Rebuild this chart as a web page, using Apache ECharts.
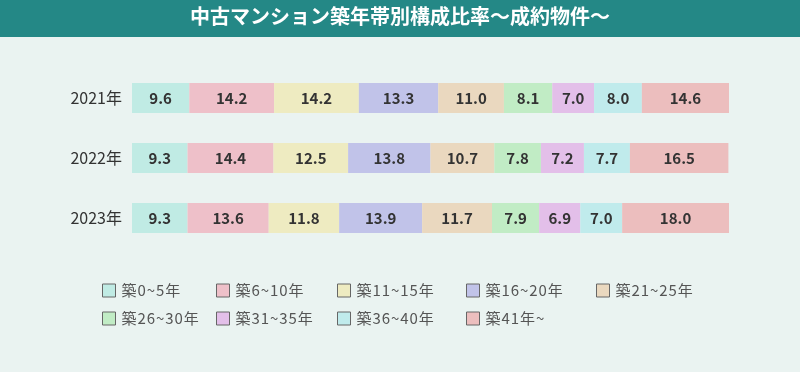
<!DOCTYPE html>
<html><head><meta charset="utf-8">
<script src="https://cdn.jsdelivr.net/npm/echarts@6/dist/echarts.min.js"></script>
<style>html,body{margin:0;padding:0;background:#eaf3f1;}#c{width:800px;height:372px;}</style>
</head><body><div id="c"></div>
<script>
const years = ['2021年', '2022年', '2023年'];
const seriesNames = ['築0~5年','築6~10年','築11~15年','築16~20年','築21~25年','築26~30年','築31~35年','築36~40年','築41年~'];
const v0_5   = [9.6, 9.3, 9.3];
const v6_10  = [14.2, 14.4, 13.6];
const v11_15 = [14.2, 12.5, 11.8];
const v16_20 = [13.3, 13.8, 13.9];
const v21_25 = [11.0, 10.7, 11.7];
const v26_30 = [8.1, 7.8, 7.9];
const v31_35 = [7.0, 7.2, 6.9];
const v36_40 = [8.0, 7.7, 7.0];
const v41    = [14.6, 16.5, 18.0];
const allValues = [v0_5, v6_10, v11_15, v16_20, v21_25, v26_30, v31_35, v36_40, v41];
const colors = ['#c0ebe4','#eec0c9','#eeebc1','#c1c3e9','#ead8bf','#c1ecc5','#e3bfe9','#c0ebec','#ecbebe'];

const font = '"Noto Sans CJK JP", "Noto Sans", sans-serif';
const chart = echarts.init(document.getElementById('c'));

const legendPos = [
  [102, 283], [216, 283], [337, 283], [466, 283], [596, 283],
  [102, 311], [216, 311], [337, 311], [466, 311]
];
const spaced = s => Array.from(s).join('\u200A');
const legends = seriesNames.map((n, i) => ({
  data: [n], left: legendPos[i][0], top: legendPos[i][1], padding: 0,
  itemWidth: 13, itemHeight: 13, itemGap: 0, icon: 'rect',
  itemStyle: { borderColor: '#666', borderWidth: 1 },
  formatter: spaced,
  textStyle: { color: '#555', fontSize: 15, fontFamily: font, padding: [0, 0, 0, 1] },
  selectedMode: false
}));

chart.setOption({
  backgroundColor: '#eaf3f1',
  animation: false,
  graphic: [
    { type: 'rect', left: 0, top: 0, shape: { width: 800, height: 37 }, style: { fill: '#248886' } },
    { type: 'text', left: 'center', top: 6, style: { text: '中古マンション築年帯別構成比率～成約物件～', fill: '#fff', fontSize: 20, fontWeight: 'bold', fontFamily: font } }
  ],
  legend: legends,
  grid: { left: 132, right: 71, top: 68, height: 180 },
  xAxis: { type: 'value', min: 0, max: 100, show: false },
  yAxis: {
    type: 'category', data: years, inverse: true,
    axisLine: { show: false }, axisTick: { show: false }, splitLine: { show: false },
    axisLabel: { color: '#333', fontSize: 16, fontFamily: font, margin: 10 }
  },
  series: seriesNames.map((n, i) => ({
    name: n, type: 'bar', stack: 'total', barWidth: 30,
    data: allValues[i],
    itemStyle: { color: colors[i] },
    emphasis: { disabled: true },
    label: { show: true, position: 'inside', color: '#333', fontSize: 15, fontWeight: 'bold', fontFamily: font,
      formatter: p => p.value.toFixed(1) }
  }))
});
</script></body></html>
